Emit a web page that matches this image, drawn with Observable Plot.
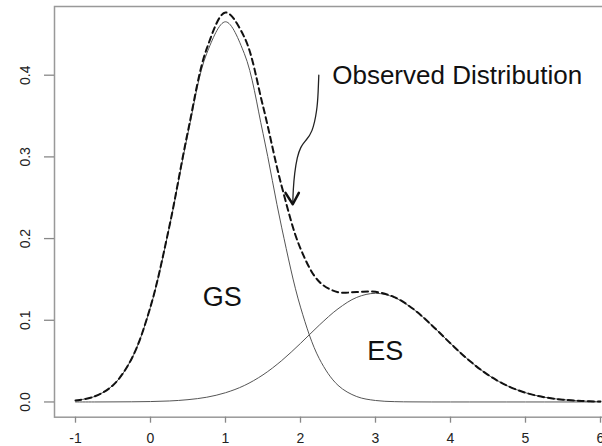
<!DOCTYPE html>
<html>
<head>
<meta charset="utf-8">
<script src="https://cdn.jsdelivr.net/npm/d3@7"></script>
<script src="https://cdn.jsdelivr.net/npm/@observablehq/plot@0.6"></script>
<style>
  html, body { margin: 0; padding: 0; background: #fff; overflow: hidden; }
  #chart svg { display: block; }
</style>
</head>
<body>
<div id="chart"></div>
<script>
// x positions at which the curves were read
const xs = [-1, -0.75, -0.5, -0.25, 0, 0.25, 0.5, 0.75, 1, 1.25, 1.5, 1.75, 2, 2.25, 2.5, 2.75, 3, 3.25, 3.5, 3.75, 4, 4.25, 4.5, 4.75, 5, 5.25, 5.5, 5.75, 6];
// GS component (solid)
const gs = [0.0018, 0.0066, 0.0204, 0.0531, 0.1161, 0.2131, 0.3289, 0.4267, 0.4654, 0.4267, 0.3289, 0.2131, 0.1161, 0.0531, 0.0204, 0.0066, 0.0018, 0.0004, 0.0001, 0, 0, 0, 0, 0, 0, 0, 0, 0, 0];
// ES component (solid)
const es = [0.0000, 0.0000, 0.0001, 0.0002, 0.0005, 0.0012, 0.0028, 0.0058, 0.0113, 0.0201, 0.0332, 0.0507, 0.0717, 0.0940, 0.1140, 0.1280, 0.1330, 0.1280, 0.1140, 0.0940, 0.0717, 0.0507, 0.0332, 0.0201, 0.0113, 0.0058, 0.0028, 0.0012, 0.0005];
// Observed distribution (dashed)
const observed = [0.0018, 0.0066, 0.0205, 0.0533, 0.1166, 0.2143, 0.3317, 0.4325, 0.4767, 0.4468, 0.3621, 0.2638, 0.1878, 0.1471, 0.1344, 0.1346, 0.1348, 0.1284, 0.1141, 0.0940, 0.0717, 0.0507, 0.0332, 0.0201, 0.0113, 0.0058, 0.0028, 0.0012, 0.0005];

const xTicks = [-1, 0, 1, 2, 3, 4, 5, 6];
const yTicks = [0, 0.1, 0.2, 0.3, 0.4];

// annotation arrow (data coordinates)
const arrowX = [2.244, 2.236, 2.222, 2.156, 2.067, 2.000, 1.956, 1.920, 1.902, 1.897];
const arrowY = [0.400, 0.380, 0.357, 0.329, 0.320, 0.312, 0.300, 0.280, 0.259, 0.243];
const headX = [1.800, 1.897, 1.978];
const headY = [0.256, 0.242, 0.256];

const labels = [
  {x: 2.423, y: 0.400, text: "Observed Distribution", size: 26, anchor: "start"},
  {x: 0.956, y: 0.1286, text: "GS", size: 27, anchor: "middle"},
  {x: 3.129, y: 0.0623, text: "ES", size: 27, anchor: "middle"}
];

const rows = xs.map((x, i) => ({x, gs: gs[i], es: es[i], obs: observed[i]}));
const arrow = arrowX.map((x, i) => ({x, y: arrowY[i]}));
const head = headX.map((x, i) => ({x, y: headY[i]}));

const chart = Plot.plot({
  width: 602,
  height: 446,
  marginLeft: 54,
  marginRight: -19,
  marginTop: 6,
  marginBottom: 29.3,
  style: {fontFamily: "'Liberation Sans', Arial, sans-serif", overflow: "hidden", background: "#fff"},
  x: {domain: [-1.28, 6.28]},
  y: {domain: [-0.01866, 0.4841]},
  marks: [
    Plot.frame({stroke: "#999", strokeWidth: 1.5}),
    Plot.axisX({ticks: xTicks, tickSize: 6, tickPadding: 10, stroke: "#888", strokeWidth: 1.3, fill: "#222", fontSize: 14, tickFormat: d => String(d), label: null}),
    Plot.axisY({ticks: yTicks, tickSize: 10, stroke: "#888", strokeWidth: 1.3, tickFormat: () => "", label: null}),
    Plot.text(yTicks, {y: d => d, text: d => d.toFixed(1), frameAnchor: "left", dx: -29, rotate: -90, textAnchor: "middle", lineAnchor: "middle", fontSize: 14, fill: "#222"}),
    Plot.line(rows, {x: "x", y: "gs", stroke: "#555", strokeWidth: 1, curve: "catmull-rom"}),
    Plot.line(rows, {x: "x", y: "es", stroke: "#555", strokeWidth: 1, curve: "catmull-rom"}),
    Plot.line(rows, {x: "x", y: "obs", stroke: "#111", strokeWidth: 2, strokeDasharray: "6,4", curve: "catmull-rom"}),
    Plot.line(arrow, {x: "x", y: "y", stroke: "#222", strokeWidth: 1.3, curve: "basis"}),
    Plot.line(head, {x: "x", y: "y", stroke: "#111", strokeWidth: 2.5}),
    Plot.text(labels, {x: "x", y: "y", text: "text", fontSize: d => d.size, textAnchor: "start", fill: "#111", lineAnchor: "middle", filter: d => d.anchor === "start"}),
    Plot.text(labels, {x: "x", y: "y", text: "text", fontSize: 27, textAnchor: "middle", fill: "#111", lineAnchor: "middle", filter: d => d.anchor === "middle"})
  ]
});
document.getElementById("chart").appendChild(chart);
</script>
</body>
</html>
